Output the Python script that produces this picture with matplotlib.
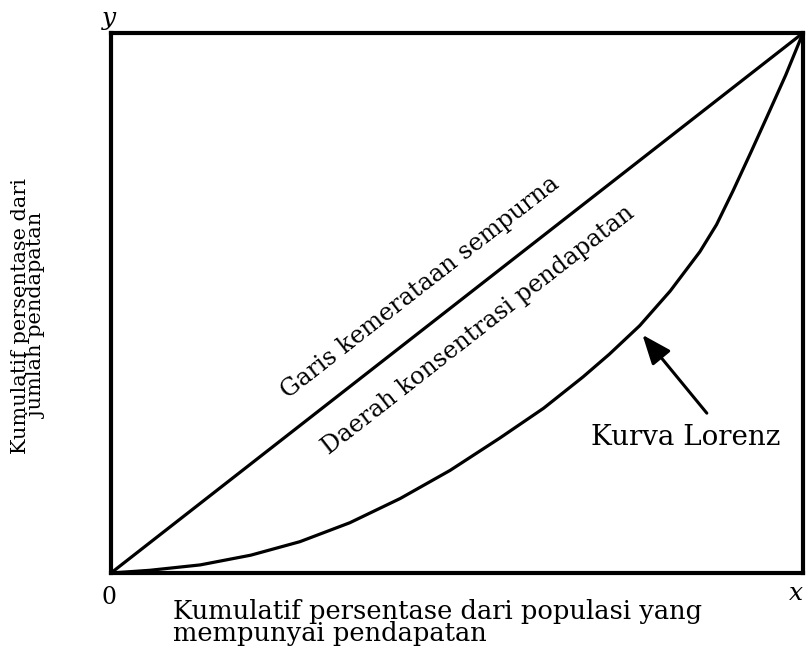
"""
Kurva Lorenz: garis kemerataan sempurna vs kurva Lorenz.
"""
import matplotlib
matplotlib.use("Agg")
import matplotlib.pyplot as plt

# Data (fractions of the axes)
equality_x = [0.0, 1.0]
equality_y = [0.0, 1.0]

lorenz_x = [0.0, 0.056, 0.129, 0.202, 0.273, 0.345, 0.418, 0.490, 0.562,
            0.625, 0.682, 0.720, 0.764, 0.808, 0.851, 0.875, 0.899, 0.925,
            0.948, 0.975, 1.0]
lorenz_y = [0.0, 0.005, 0.015, 0.033, 0.058, 0.093, 0.138, 0.190, 0.250,
            0.305, 0.363, 0.405, 0.458, 0.522, 0.595, 0.645, 0.708, 0.780,
            0.845, 0.922, 1.0]

label_equality = "Garis kemerataan sempurna"
label_region = "Daerah konsentrasi pendapatan"
label_lorenz = "Kurva Lorenz"
x_label = "Kumulatif persentase dari populasi yang\nmempunyai pendapatan"
y_label = "Kumulatif persentase dari\njumlah pendapatan"

plt.rcParams['font.family'] = ['DejaVu Serif']

fig = plt.figure(figsize=(8.06, 6.49), dpi=100)
ax = fig.add_axes([0.1377, 0.1171, 0.8586, 0.8321])
ax.set_xlim(0, 1)
ax.set_ylim(0, 1)
ax.set_xticks([])
ax.set_yticks([])
for sp in ax.spines.values():
    sp.set_linewidth(3)
    sp.set_color('black')

# Lines
ax.plot(equality_x, equality_y, color='black', lw=2.3, clip_on=False,
        solid_capstyle='butt')
ax.plot(lorenz_x, lorenz_y, color='black', lw=2.3, clip_on=False,
        solid_joinstyle='round')

# Labels inside the box
ang = 38
ax.text(0.447, 0.528, label_equality, rotation=ang, rotation_mode='anchor',
        ha='center', va='center', fontsize=17.2)
ax.text(0.531, 0.450, label_region, rotation=ang, rotation_mode='anchor',
        ha='center', va='center', fontsize=17.2)
ax.text(0.831, 0.250, label_lorenz, ha='center', va='center', fontsize=20)

ax.annotate("", xy=(0.768, 0.441), xytext=(0.861, 0.296),
            arrowprops=dict(arrowstyle='-|>,head_length=1.0,head_width=0.4',
                            color='black', lw=2.2, mutation_scale=18,
                            shrinkA=0, shrinkB=0))

# Axis letters
fig.text(109 / 806, 1 - 597 / 649, "0", ha='center', va='center', fontsize=17)
fig.text(109 / 806, 1 - 19 / 649, "y", ha='center', va='center', fontsize=18,
         style='italic')
fig.text(796 / 806, 1 - 594 / 649, "x", ha='center', va='center', fontsize=18,
         style='italic')

# Axis titles
fig.text(173 / 806, 1 - 622 / 649, x_label, ha='left', va='center',
         fontsize=18.5, linespacing=0.85)
fig.text(29 / 806, 1 - 316 / 649, y_label, ha='center', va='center',
         rotation=90, fontsize=15, linespacing=0.88, multialignment='center')

fig.savefig("out.png", dpi=100)
plt.close(fig)
